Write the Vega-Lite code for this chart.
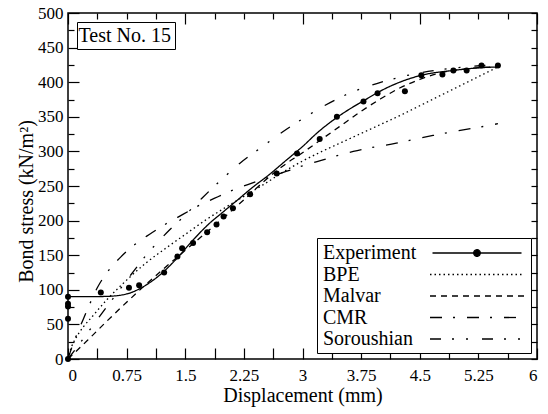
{
  "$schema": "https://vega.github.io/schema/vega-lite/v6.json",
  "width": 469,
  "height": 346,
  "autosize": {"type": "none"},
  "padding": {"left": 68, "top": 13, "right": 11, "bottom": 55},
  "background": "white",
  "config": {
    "font": "Liberation Serif",
    "view": {"stroke": "black", "strokeWidth": 1.5},
    "axis": {
      "grid": false,
      "domain": false,
      "tickColor": "black",
      "tickWidth": 1.2,
      "labelColor": "black",
      "labelFont": "Liberation Serif",
      "labelFontSize": 17,
      "titleFont": "Liberation Serif",
      "titleFontSize": 20,
      "titleFontWeight": "normal",
      "titleColor": "black"
    }
  },
  "datasets": {
    "curves": [
      {"model": "Experiment", "slip": 0, "stress": 90},
      {"model": "Experiment", "slip": 0.25, "stress": 90},
      {"model": "Experiment", "slip": 0.5, "stress": 90.5},
      {"model": "Experiment", "slip": 0.75, "stress": 94},
      {"model": "Experiment", "slip": 1.0, "stress": 107},
      {"model": "Experiment", "slip": 1.17, "stress": 121},
      {"model": "Experiment", "slip": 1.39, "stress": 145},
      {"model": "Experiment", "slip": 1.6, "stress": 172},
      {"model": "Experiment", "slip": 1.8, "stress": 195},
      {"model": "Experiment", "slip": 2.0, "stress": 214},
      {"model": "Experiment", "slip": 2.15, "stress": 228},
      {"model": "Experiment", "slip": 2.35, "stress": 247},
      {"model": "Experiment", "slip": 2.58, "stress": 267},
      {"model": "Experiment", "slip": 2.8, "stress": 288},
      {"model": "Experiment", "slip": 3.0, "stress": 307},
      {"model": "Experiment", "slip": 3.2, "stress": 328},
      {"model": "Experiment", "slip": 3.44, "stress": 349},
      {"model": "Experiment", "slip": 3.6, "stress": 361},
      {"model": "Experiment", "slip": 3.78, "stress": 373},
      {"model": "Experiment", "slip": 3.96, "stress": 385},
      {"model": "Experiment", "slip": 4.2, "stress": 398},
      {"model": "Experiment", "slip": 4.52, "stress": 410},
      {"model": "Experiment", "slip": 4.93, "stress": 417},
      {"model": "Experiment", "slip": 5.29, "stress": 421},
      {"model": "Experiment", "slip": 5.5, "stress": 422},
      {"model": "BPE", "slip": 0, "stress": 0},
      {"model": "BPE", "slip": 0.05, "stress": 19},
      {"model": "BPE", "slip": 0.1, "stress": 30},
      {"model": "BPE", "slip": 0.2, "stress": 47},
      {"model": "BPE", "slip": 0.3, "stress": 60},
      {"model": "BPE", "slip": 0.5, "stress": 86},
      {"model": "BPE", "slip": 0.75, "stress": 114},
      {"model": "BPE", "slip": 1.0, "stress": 139},
      {"model": "BPE", "slip": 1.25, "stress": 160},
      {"model": "BPE", "slip": 1.5, "stress": 180},
      {"model": "BPE", "slip": 1.75, "stress": 200},
      {"model": "BPE", "slip": 2.0, "stress": 218},
      {"model": "BPE", "slip": 2.25, "stress": 235},
      {"model": "BPE", "slip": 2.5, "stress": 252},
      {"model": "BPE", "slip": 2.75, "stress": 270},
      {"model": "BPE", "slip": 3.0, "stress": 286},
      {"model": "BPE", "slip": 3.25, "stress": 300},
      {"model": "BPE", "slip": 3.5, "stress": 313},
      {"model": "BPE", "slip": 3.75, "stress": 326},
      {"model": "BPE", "slip": 4.0, "stress": 339},
      {"model": "BPE", "slip": 4.25, "stress": 352},
      {"model": "BPE", "slip": 4.5, "stress": 366},
      {"model": "BPE", "slip": 4.75, "stress": 380},
      {"model": "BPE", "slip": 5.0, "stress": 394},
      {"model": "BPE", "slip": 5.25, "stress": 408},
      {"model": "BPE", "slip": 5.5, "stress": 422},
      {"model": "Malvar", "slip": 0, "stress": 0},
      {"model": "Malvar", "slip": 0.25, "stress": 27},
      {"model": "Malvar", "slip": 0.5, "stress": 55},
      {"model": "Malvar", "slip": 0.75, "stress": 82},
      {"model": "Malvar", "slip": 1.0, "stress": 108},
      {"model": "Malvar", "slip": 1.25, "stress": 133},
      {"model": "Malvar", "slip": 1.5, "stress": 157},
      {"model": "Malvar", "slip": 1.75, "stress": 181},
      {"model": "Malvar", "slip": 2.0, "stress": 205},
      {"model": "Malvar", "slip": 2.25, "stress": 230},
      {"model": "Malvar", "slip": 2.5, "stress": 256},
      {"model": "Malvar", "slip": 2.75, "stress": 279},
      {"model": "Malvar", "slip": 3.0, "stress": 298},
      {"model": "Malvar", "slip": 3.25, "stress": 318},
      {"model": "Malvar", "slip": 3.5, "stress": 338},
      {"model": "Malvar", "slip": 3.75, "stress": 358},
      {"model": "Malvar", "slip": 4.0, "stress": 376},
      {"model": "Malvar", "slip": 4.25, "stress": 392},
      {"model": "Malvar", "slip": 4.5, "stress": 404},
      {"model": "Malvar", "slip": 4.75, "stress": 413},
      {"model": "Malvar", "slip": 5.0, "stress": 418},
      {"model": "Malvar", "slip": 5.25, "stress": 421},
      {"model": "Malvar", "slip": 5.5, "stress": 422},
      {"model": "CMR", "slip": 0, "stress": 0},
      {"model": "CMR", "slip": 0.05, "stress": 17},
      {"model": "CMR", "slip": 0.1, "stress": 32},
      {"model": "CMR", "slip": 0.19, "stress": 56},
      {"model": "CMR", "slip": 0.3, "stress": 85},
      {"model": "CMR", "slip": 0.38, "stress": 104},
      {"model": "CMR", "slip": 0.5, "stress": 125},
      {"model": "CMR", "slip": 0.68, "stress": 148},
      {"model": "CMR", "slip": 0.85, "stress": 165},
      {"model": "CMR", "slip": 1.04, "stress": 180},
      {"model": "CMR", "slip": 1.25, "stress": 195},
      {"model": "CMR", "slip": 1.47, "stress": 209},
      {"model": "CMR", "slip": 1.66, "stress": 221},
      {"model": "CMR", "slip": 1.87, "stress": 232},
      {"model": "CMR", "slip": 2.11, "stress": 244},
      {"model": "CMR", "slip": 2.3, "stress": 252},
      {"model": "CMR", "slip": 2.55, "stress": 262},
      {"model": "CMR", "slip": 2.79, "stress": 271},
      {"model": "CMR", "slip": 3.0, "stress": 279},
      {"model": "CMR", "slip": 3.24, "stress": 287},
      {"model": "CMR", "slip": 3.65, "stress": 300},
      {"model": "CMR", "slip": 4.2, "stress": 312},
      {"model": "CMR", "slip": 4.67, "stress": 323},
      {"model": "CMR", "slip": 5.0, "stress": 330},
      {"model": "CMR", "slip": 5.31, "stress": 336},
      {"model": "CMR", "slip": 5.5, "stress": 340},
      {"model": "Soroushian", "slip": 0, "stress": 0},
      {"model": "Soroushian", "slip": 0.2, "stress": 30},
      {"model": "Soroushian", "slip": 0.4, "stress": 61},
      {"model": "Soroushian", "slip": 0.6, "stress": 91},
      {"model": "Soroushian", "slip": 0.8, "stress": 121},
      {"model": "Soroushian", "slip": 1.0, "stress": 150},
      {"model": "Soroushian", "slip": 1.26, "stress": 182},
      {"model": "Soroushian", "slip": 1.5, "stress": 208},
      {"model": "Soroushian", "slip": 1.71, "stress": 232},
      {"model": "Soroushian", "slip": 2.0, "stress": 263},
      {"model": "Soroushian", "slip": 2.2, "stress": 283},
      {"model": "Soroushian", "slip": 2.5, "stress": 308},
      {"model": "Soroushian", "slip": 2.73, "stress": 327},
      {"model": "Soroushian", "slip": 3.0, "stress": 347},
      {"model": "Soroushian", "slip": 3.28, "stress": 366},
      {"model": "Soroushian", "slip": 3.6, "stress": 384},
      {"model": "Soroushian", "slip": 3.95, "stress": 398},
      {"model": "Soroushian", "slip": 4.31, "stress": 409},
      {"model": "Soroushian", "slip": 4.76, "stress": 418},
      {"model": "Soroushian", "slip": 5.18, "stress": 423},
      {"model": "Soroushian", "slip": 5.5, "stress": 425}
    ],
    "tests": [
      {"test": "Test No. 15", "slip": 0, "stress": 0},
      {"test": "Test No. 15", "slip": 0, "stress": 58},
      {"test": "Test No. 15", "slip": 0, "stress": 76},
      {"test": "Test No. 15", "slip": 0, "stress": 80},
      {"test": "Test No. 15", "slip": 0, "stress": 90},
      {"test": "Test No. 15", "slip": 0.42, "stress": 96},
      {"test": "Test No. 15", "slip": 0.78, "stress": 103},
      {"test": "Test No. 15", "slip": 0.91, "stress": 106.5},
      {"test": "Test No. 15", "slip": 1.23, "stress": 125},
      {"test": "Test No. 15", "slip": 1.4, "stress": 148},
      {"test": "Test No. 15", "slip": 1.46, "stress": 160},
      {"test": "Test No. 15", "slip": 1.6, "stress": 167.5},
      {"test": "Test No. 15", "slip": 1.78, "stress": 183},
      {"test": "Test No. 15", "slip": 1.9, "stress": 194.5},
      {"test": "Test No. 15", "slip": 1.99, "stress": 206},
      {"test": "Test No. 15", "slip": 2.11, "stress": 218},
      {"test": "Test No. 15", "slip": 2.33, "stress": 238},
      {"test": "Test No. 15", "slip": 2.67, "stress": 268},
      {"test": "Test No. 15", "slip": 2.93, "stress": 297},
      {"test": "Test No. 15", "slip": 3.22, "stress": 318},
      {"test": "Test No. 15", "slip": 3.44, "stress": 350},
      {"test": "Test No. 15", "slip": 3.78, "stress": 372},
      {"test": "Test No. 15", "slip": 3.96, "stress": 384},
      {"test": "Test No. 15", "slip": 4.31, "stress": 387},
      {"test": "Test No. 15", "slip": 4.52, "stress": 410},
      {"test": "Test No. 15", "slip": 4.79, "stress": 411},
      {"test": "Test No. 15", "slip": 4.93, "stress": 417},
      {"test": "Test No. 15", "slip": 5.1, "stress": 417},
      {"test": "Test No. 15", "slip": 5.29, "stress": 424},
      {"test": "Test No. 15", "slip": 5.5, "stress": 424}
    ]
  },
  "layer": [
    {
      "data": {"name": "curves"},
      "mark": {"type": "line", "color": "black", "strokeWidth": 1.3, "interpolate": "monotone"},
      "encoding": {
        "x": {
          "field": "slip", "type": "quantitative",
          "scale": {"domain": [0, 6], "nice": false},
          "axis": {
            "orient": "bottom",
            "title": "Displacement (mm)",
            "values": [0, 0.375, 0.75, 1.125, 1.5, 1.875, 2.25, 2.625, 3, 3.375, 3.75, 4.125, 4.5, 4.875, 5.25, 5.625, 6],
            "tickSize": -11,
            "labelPadding": 19,
            "labelExpr": "datum.value % 0.75 === 0 ? '' + datum.value : ''",
            "titlePadding": 2
          }
        },
        "y": {
          "field": "stress", "type": "quantitative",
          "scale": {"domain": [0, 500], "nice": false},
          "axis": {
            "orient": "left",
            "title": "Bond stress (kN/m²)",
            "values": [0, 25, 50, 75, 100, 125, 150, 175, 200, 225, 250, 275, 300, 325, 350, 375, 400, 425, 450, 475, 500],
            "tickSize": {"condition": {"test": "datum.value % 50 === 0", "value": -11}, "value": -6},
            "labelPadding": 16,
            "labelExpr": "datum.value % 50 === 0 ? '' + datum.value : ''",
            "titlePadding": 1,
            "titleY": 188
          }
        },
        "strokeDash": {
          "field": "model", "type": "nominal",
          "scale": {
            "domain": ["Experiment", "BPE", "Malvar", "CMR", "Soroushian"],
            "range": [[1, 0], [1.5, 3], [6, 5], [12, 11, 2, 12], [11, 11, 2, 12, 2, 14]]
          },
          "legend": {
            "title": null,
            "orient": "bottom-right",
            "offset": 6,
            "strokeColor": "black",
            "fillColor": "white",
            "padding": 4,
            "symbolType": "M-4.7,0H4.7",
            "symbolSize": 400,
            "symbolStrokeWidth": 1.3,
            "symbolStrokeColor": "black",
            "symbolOffset": 145,
            "labelOffset": -165,
            "labelFont": "Liberation Serif",
            "labelFontSize": 20,
            "labelColor": "black",
            "labelLimit": 0,
            "rowPadding": 0.5,
            "encode": {
              "symbols": {
                "update": {
                  "shape": {"signal": "datum.value === 'Experiment' ? 'M-4.45,0H4.45M-0.33,0A0.33,0.33,0,1,0,0.33,0A0.33,0.33,0,1,0,-0.33,0Z' : 'M-4.7,0H4.7'"},
                  "fill": {"value": "black"},
                  "stroke": {"value": "black"},
                  "strokeWidth": {"value": 1.3}
                }
              }
            }
          }
        }
      }
    },
    {
      "data": {"name": "tests"},
      "mark": {"type": "point", "filled": true, "size": 36, "opacity": 1},
      "encoding": {
        "x": {
          "field": "slip", "type": "quantitative",
          "scale": {"domain": [0, 6], "nice": false},
          "axis": {
            "orient": "top",
            "title": null,
            "labels": false,
            "values": [0, 0.375, 0.75, 1.125, 1.5, 1.875, 2.25, 2.625, 3, 3.375, 3.75, 4.125, 4.5, 4.875, 5.25, 5.625, 6],
            "tickSize": {"condition": {"test": "datum.value % 1.5 === 0", "value": -11}, "value": -6}
          }
        },
        "y": {
          "field": "stress", "type": "quantitative",
          "scale": {"domain": [0, 500], "nice": false},
          "axis": {
            "orient": "right",
            "title": null,
            "labels": false,
            "values": [0, 25, 50, 75, 100, 125, 150, 175, 200, 225, 250, 275, 300, 325, 350, 375, 400, 425, 450, 475, 500],
            "tickSize": -6
          }
        },
        "color": {
          "field": "test", "type": "nominal",
          "scale": {"range": ["black"]},
          "legend": {
            "title": null,
            "orient": "top-left",
            "offset": 9,
            "strokeColor": "black",
            "fillColor": "white",
            "padding": 3.5,
            "symbolSize": 0,
            "symbolOpacity": 0,
            "symbolStrokeWidth": 0,
            "labelOffset": -22,
            "labelFont": "Liberation Serif",
            "labelFontSize": 20,
            "labelColor": "black",
            "labelLimit": 0
          }
        }
      }
    }
  ],
  "resolve": {"axis": {"x": "independent", "y": "independent"}}
}
